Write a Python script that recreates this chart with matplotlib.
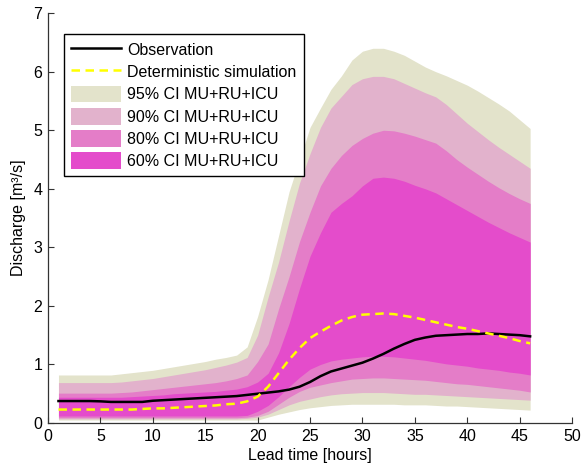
import numpy as np
import matplotlib
matplotlib.use("Agg")
import matplotlib.pyplot as plt

plt.rcParams["font.family"] = ["Liberation Sans", "DejaVu Sans"]

# lead time [hours]
lead = np.arange(1, 47)

obs = [0.375, 0.375, 0.375, 0.375, 0.37, 0.36, 0.36, 0.36, 0.36, 0.38,
       0.39, 0.40, 0.41, 0.42, 0.43, 0.44, 0.45, 0.46, 0.48, 0.50,
       0.52, 0.54, 0.57, 0.62, 0.70, 0.80, 0.88, 0.93, 0.98, 1.03,
       1.10, 1.18, 1.27, 1.35, 1.42, 1.46, 1.49, 1.50, 1.51, 1.52,
       1.52, 1.53, 1.52, 1.51, 1.50, 1.48]
det = [0.23, 0.23, 0.23, 0.23, 0.23, 0.23, 0.23, 0.23, 0.24, 0.25,
       0.25, 0.26, 0.27, 0.28, 0.29, 0.30, 0.32, 0.33, 0.37, 0.45,
       0.62, 0.85, 1.08, 1.28, 1.45, 1.56, 1.66, 1.75, 1.81, 1.85,
       1.86, 1.87, 1.86, 1.83, 1.80, 1.76, 1.72, 1.68, 1.64, 1.61,
       1.57, 1.53, 1.49, 1.45, 1.40, 1.36]

up95 = [0.82, 0.82, 0.82, 0.82, 0.82, 0.82, 0.84, 0.86, 0.88, 0.90,
        0.93, 0.96, 0.99, 1.02, 1.05, 1.09, 1.12, 1.16, 1.30, 1.82,
        2.45, 3.20, 3.95, 4.50, 5.05, 5.38, 5.70, 5.93, 6.20, 6.35,
        6.40, 6.40, 6.35, 6.28, 6.18, 6.08, 6.00, 5.93, 5.85, 5.77,
        5.67, 5.56, 5.45, 5.33, 5.18, 5.03]
lo95 = [0.05] * 20 + [0.10, 0.15, 0.19, 0.23, 0.26, 0.28, 0.30, 0.31, 0.32, 0.32,
        0.32, 0.32, 0.32, 0.31, 0.31, 0.31, 0.30, 0.29, 0.29, 0.28,
        0.27, 0.26, 0.25, 0.24, 0.23, 0.22]
up90 = [0.69, 0.69, 0.69, 0.69, 0.69, 0.69, 0.70, 0.72, 0.74, 0.76,
        0.79, 0.82, 0.85, 0.88, 0.91, 0.95, 0.99, 1.04, 1.12, 1.50,
        2.15, 2.75, 3.45, 4.10, 4.60, 5.05, 5.38, 5.58, 5.78, 5.88,
        5.92, 5.92, 5.88, 5.80, 5.72, 5.64, 5.57, 5.44, 5.28, 5.12,
        4.98, 4.84, 4.71, 4.59, 4.47, 4.35]
lo90 = [0.07] * 18 + [0.08, 0.10, 0.15, 0.23, 0.31, 0.37, 0.41, 0.45, 0.48, 0.50,
        0.51, 0.52, 0.52, 0.52, 0.51, 0.50, 0.49, 0.49, 0.48, 0.47,
        0.46, 0.45, 0.44, 0.43, 0.42, 0.41, 0.40, 0.39]
up80 = [0.51, 0.51, 0.51, 0.51, 0.51, 0.51, 0.52, 0.53, 0.55, 0.57,
        0.59, 0.61, 0.63, 0.65, 0.67, 0.69, 0.72, 0.76, 0.82, 1.05,
        1.35, 1.95, 2.50, 3.10, 3.60, 4.05, 4.35, 4.57, 4.74, 4.86,
        4.95, 5.00, 4.99, 4.95, 4.90, 4.84, 4.78, 4.65, 4.50, 4.37,
        4.25, 4.13, 4.02, 3.92, 3.83, 3.75]
lo80 = [0.09] * 18 + [0.10, 0.13, 0.20, 0.32, 0.44, 0.54, 0.61, 0.65, 0.69, 0.72,
        0.75, 0.76, 0.77, 0.77, 0.76, 0.75, 0.74, 0.73, 0.71, 0.69,
        0.67, 0.66, 0.64, 0.62, 0.60, 0.58, 0.56, 0.53]
up60 = [0.44, 0.44, 0.44, 0.44, 0.44, 0.44, 0.44, 0.45, 0.46, 0.47,
        0.48, 0.50, 0.51, 0.52, 0.53, 0.54, 0.56, 0.58, 0.62, 0.70,
        0.85, 1.20, 1.70, 2.30, 2.85, 3.25, 3.60, 3.75, 3.88, 4.05,
        4.18, 4.20, 4.18, 4.13, 4.06, 4.00, 3.93, 3.83, 3.73, 3.63,
        3.53, 3.43, 3.34, 3.25, 3.17, 3.09]
lo60 = [0.12] * 18 + [0.13, 0.20, 0.30, 0.45, 0.62, 0.78, 0.92, 1.00, 1.06, 1.09,
        1.11, 1.13, 1.14, 1.14, 1.13, 1.11, 1.09, 1.07, 1.04, 1.01,
        0.99, 0.97, 0.94, 0.92, 0.90, 0.87, 0.85, 0.82]

bands = [("95% CI MU+RU+ICU", up95, lo95, "#e3e3cb"),
         ("90% CI MU+RU+ICU", up90, lo90, "#e2b2cc"),
         ("80% CI MU+RU+ICU", up80, lo80, "#e47dc8"),
         ("60% CI MU+RU+ICU", up60, lo60, "#e44ccb")]

fig = plt.figure(figsize=(5.81, 4.70), dpi=100)
ax = fig.add_axes([0.0826, 0.100, 0.902, 0.872])

h_b = []
for lab, up, lo, c in bands:
    h_b.append(ax.fill_between(lead, lo, up, color=c, lw=0, label=lab))
h_o, = ax.plot(lead, obs, color="k", lw=1.8, label="Observation")
h_d, = ax.plot(lead, det, color="#ffff00", lw=1.8, ls=(0, (3.4, 2.2)),
               label="Deterministic simulation")

ax.set_xlim(0, 50); ax.set_ylim(0, 7)
ax.set_xticks(range(0, 51, 5)); ax.set_yticks(range(0, 8))
for s in ["top", "right"]:
    ax.spines[s].set_visible(False)
for s in ["left", "bottom"]:
    ax.spines[s].set_color("#333333"); ax.spines[s].set_linewidth(0.9)
ax.tick_params(direction="in", length=4, width=0.8, labelsize=11.5, colors="#333333",
               labelcolor="k", pad=4)
ax.set_xlabel("Lead time [hours]", fontsize=11.5, labelpad=3)
ax.set_ylabel("Discharge [m\u00b3/s]", fontsize=11.5, labelpad=5)

leg = ax.legend([h_o, h_d] + h_b,
                ["Observation", "Deterministic simulation"] + [b[0] for b in bands],
                loc="upper left", bbox_to_anchor=(0.031, 0.949), fontsize=11.5,
                frameon=True, fancybox=False, edgecolor="k", framealpha=1,
                handlelength=3.1, handleheight=1.25, labelspacing=0.33,
                handletextpad=0.4, borderpad=0.45, borderaxespad=0)
leg.get_frame().set_linewidth(1.0)

fig.savefig("out.png", dpi=100)
